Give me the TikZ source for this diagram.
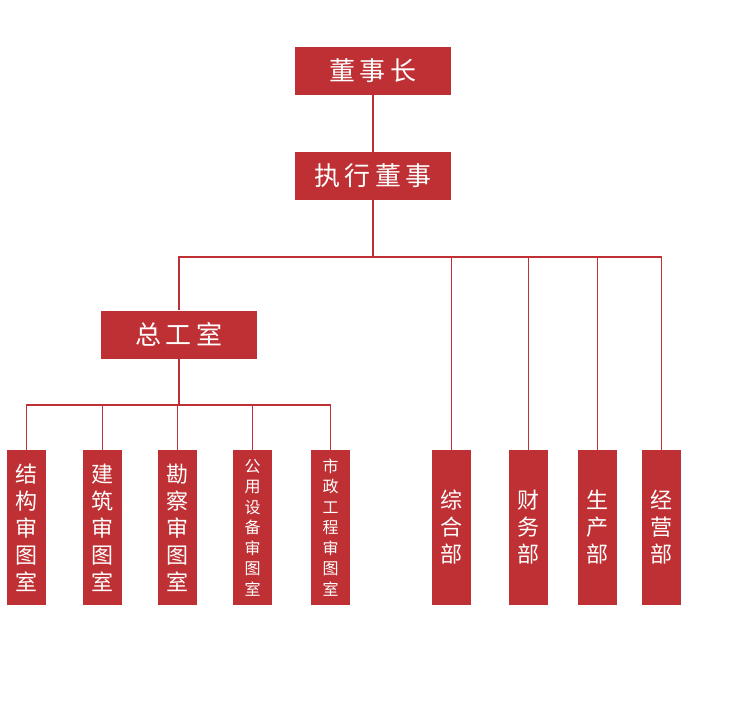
\documentclass[tikz,border=0pt]{standalone}
\usepackage{fontspec}
\newfontfamily\cjk{Noto Sans CJK SC}
\definecolor{red1}{HTML}{BE3033}
\tikzset{
 big/.style={fill=red1,text=white,minimum width=156pt,minimum height=48pt,inner sep=0pt,font=\cjk\fontsize{26}{28}\selectfont},
 vbox/.style={fill=red1,text=white,minimum width=39pt,minimum height=155pt,inner sep=0pt,align=center,font=\cjk\fontsize{22}{27}\selectfont},
 vsmall/.style={vbox,font=\cjk\fontsize{16}{20.5}\selectfont},
 line/.style={draw=red1,line width=1.5pt}
}
\begin{document}
\begin{tikzpicture}[x=1pt,y=-1pt]
\useasboundingbox (0,0) rectangle (746,713);
\node[big] (a) at (373,71) {董\,事\,长};
\node[big] (b) at (373,176) {执\,行\,董\,事};
\node[big] (c) at (179,334.5) {总\,工\,室};
\node[vbox] (v1) at (26.5,527.5) {结\\构\\审\\图\\室};
\node[vbox] (v2) at (102.5,527.5) {建\\筑\\审\\图\\室};
\node[vbox] (v3) at (177.5,527.5) {勘\\察\\审\\图\\室};
\node[vsmall] (v4) at (252.5,527.5) {公\\用\\设\\备\\审\\图\\室};
\node[vsmall] (v5) at (330.5,527.5) {市\\政\\工\\程\\审\\图\\室};
\node[vbox] (d1) at (451.5,527.5) {综\\合\\部};
\node[vbox] (d2) at (528.5,527.5) {财\\务\\部};
\node[vbox] (d3) at (597.5,527.5) {生\\产\\部};
\node[vbox] (d4) at (661.5,527.5) {经\\营\\部};
\coordinate (j1) at (373,257);
\coordinate (j2) at (179,405);
\draw[line] (a) -- (b);
\draw[line] (b) -- (j1);
\draw[line] (c.north) |- (j1) -| (d4.north);
\foreach \n in {d1,d2,d3} \draw[line] (\n.north) -- (\n.north |- j1);
\draw[line] (c) -- (j2);
\draw[line] (v1.north) |- (j2) -| (v5.north);
\foreach \n in {v2,v3,v4} \draw[line] (\n.north) -- (\n.north |- j2);
\end{tikzpicture}
\end{document}
